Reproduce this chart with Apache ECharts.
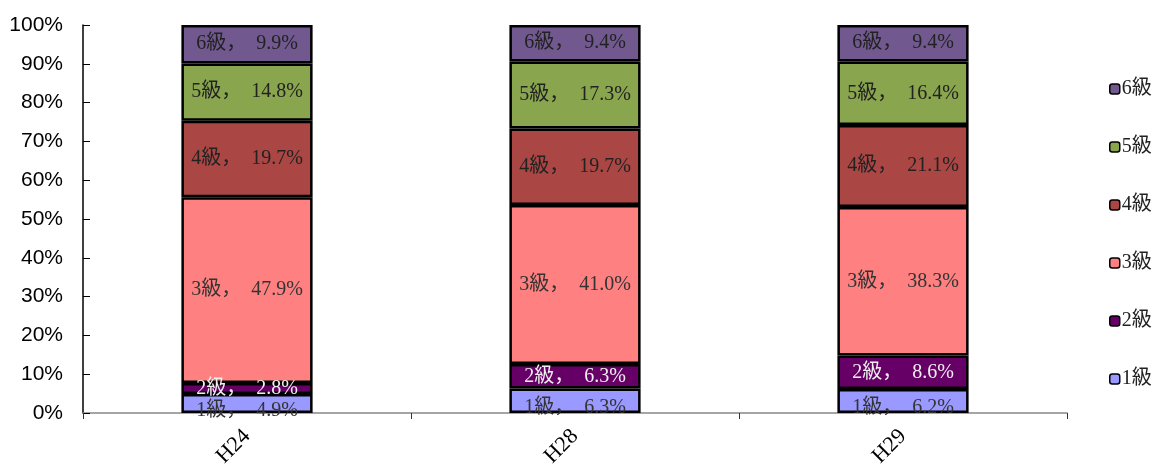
<!DOCTYPE html>
<html>
<head>
<meta charset="utf-8">
<script src="https://cdn.jsdelivr.net/npm/echarts@6/dist/echarts.min.js"></script>
<style>
  html, body { margin: 0; padding: 0; background: #fff; }
  #chart { width: 1159px; height: 472px; }
</style>
</head>
<body>
<div id="chart"></div>
<script>
// 年度
var categories = ['H24', 'H28', 'H29'];
// 級ごとの割合 (%)
var grades = ['1級', '2級', '3級', '4級', '5級', '6級'];
var grade1 = [4.9, 6.3, 6.2];
var grade2 = [2.8, 6.3, 8.6];
var grade3 = [47.9, 41.0, 38.3];
var grade4 = [19.7, 19.7, 21.1];
var grade5 = [14.8, 17.3, 16.4];
var grade6 = [9.9, 9.4, 9.4];

var values = [grade1, grade2, grade3, grade4, grade5, grade6];
var colors = ['#9999FF', '#660066', '#FF8080', '#AA4643', '#89A54E', '#71588F'];
var labelColors = ['#333', '#eee', '#333', '#222', '#222', '#222'];
var serif = '"Liberation Serif", "Noto Sans CJK JP", serif';

function formatData() { // series データ作成
    var seriesData = [];
    for (var i = 0; i < grades.length; i++) {
        seriesData.push({
            name: grades[i],
            type: 'bar',
            stack: 'total',
            barWidth: '40%',
            data: values[i],
            itemStyle: {
                color: colors[i],
                borderColor: '#000',
                borderWidth: 2.5
            },
            label: {
                show: true,
                position: 'inside',
                offset: i === 0 ? [0, 7] : [0, 0],
                color: labelColors[i],
                fontFamily: serif,
                fontSize: 20,
                formatter: function (p) {
                    return p.seriesName + '，  ' + p.value.toFixed(1) + '%';
                }
            }
        });
    }
    return seriesData;
}

var option = {
    animation: false,
    color: colors,
    grid: { left: 83, right: 92, top: 25, bottom: 59, outerBoundsMode: 'none' },
    legend: {
        orient: 'vertical',
        left: 1104,
        top: 74,
        itemWidth: 10,
        itemHeight: 10,
        itemGap: 38,
        data: grades.slice().reverse(),
        itemStyle: { borderColor: '#000', borderWidth: 1.5 },
        textStyle: { fontFamily: serif, fontSize: 20, color: '#222', padding: [0, 0, 0, -3] }
    },
    xAxis: {
        type: 'category',
        data: categories,
        axisLine: { lineStyle: { color: '#888', width: 1.5 } },
        axisTick: { show: true, length: 6, lineStyle: { color: '#333' } },
        axisLabel: {
            rotate: 45,
            margin: 20,
            fontFamily: serif,
            fontSize: 22,
            color: '#000'
        }
    },
    yAxis: {
        type: 'value',
        min: 0,
        max: 100,
        interval: 10,
        axisLine: { show: true, lineStyle: { color: '#000', width: 1.5 } },
        axisTick: { show: true, inside: true, length: 7, lineStyle: { color: '#000' } },
        splitLine: { show: false },
        axisLabel: {
            formatter: '{value}%',
            margin: 20,
            fontFamily: '"Liberation Sans Narrow", "Liberation Sans", sans-serif',
            fontSize: 21,
            color: '#000'
        }
    },
    series: formatData()
};

echarts.init(document.getElementById('chart')).setOption(option);
</script>
</body>
</html>
